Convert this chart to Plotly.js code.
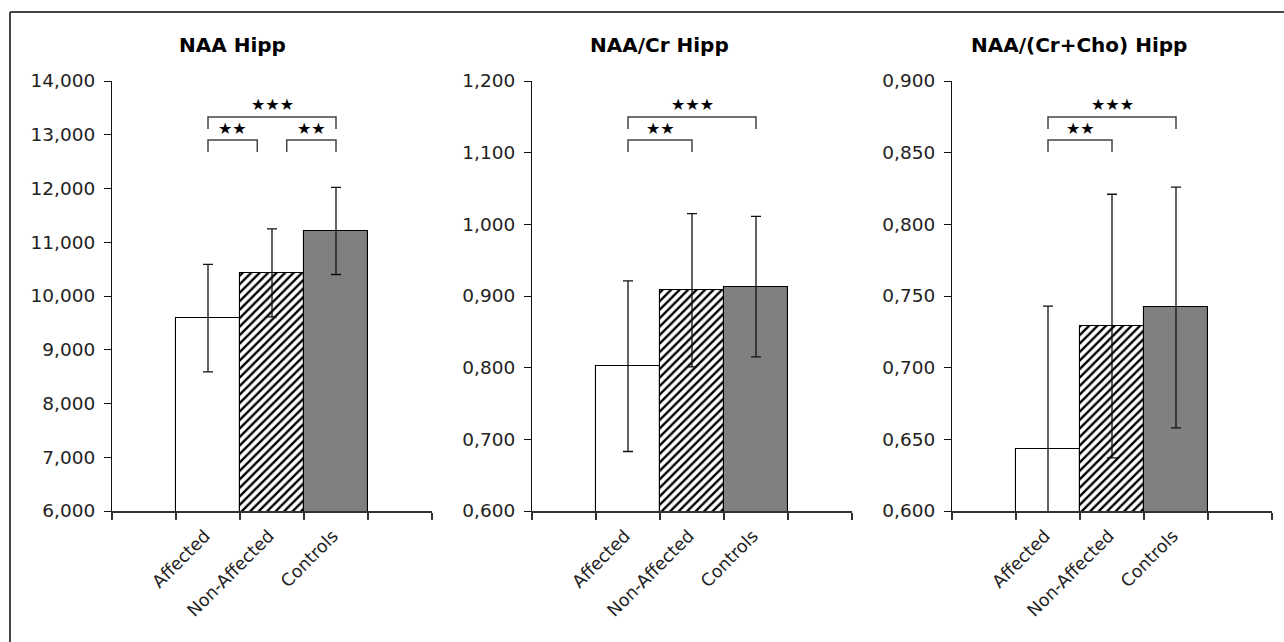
<!DOCTYPE html>
<html>
<head>
<meta charset="utf-8">
<script src="https://cdn.plot.ly/plotly-3.0.1.min.js"></script>
<style>html,body{margin:0;padding:0;background:#fff;}#chart{width:1284px;height:642px;}</style>
</head>
<body>
<div id="chart"></div>
<script>
// ---- data ----
const categories = ['Affected', 'Non-Affected', 'Controls'];
const panelTitles = ['NAA Hipp', 'NAA/Cr Hipp', 'NAA/(Cr+Cho) Hipp'];

const naaMean = [9.59, 10.43, 11.21];
const naaSD = [1.00, 0.82, 0.81];

const naaCrMean = [0.802, 0.908, 0.913];
const naaCrSD = [0.119, 0.107, 0.098];

const naaCrChoMean = [0.643, 0.729, 0.742];
const naaCrChoSD = [0.100, 0.092, 0.084];

const yRanges = [[6, 14], [0.6, 1.2], [0.6, 0.9]];
const yDticks = [1, 0.1, 0.05];

// significance brackets: [panel, from category index, to category index, level, label]
const brackets = [
  [0, 0, 2, 2, '★★★'], [0, 0, 1, 1, '★★'], [0, 1, 2, 1, '★★'],
  [1, 0, 2, 2, '★★★'], [1, 0, 1, 1, '★★'],
  [2, 0, 2, 2, '★★★'], [2, 0, 1, 1, '★★']
];

// ---- styles / layout ----
const W = 1284, H = 642;
const FONT = 'DejaVu Sans';
const barStyles = [
  {color: '#ffffff', pattern: {shape: ''}},
  {color: '#ffffff', pattern: {shape: '/', fgcolor: '#000000', bgcolor: '#ffffff', size: 6, solidity: 0.4, fillmode: 'replace'}},
  {color: '#808080', pattern: {shape: ''}}
];
const means = [naaMean, naaCrMean, naaCrChoMean];
const sds = [naaSD, naaCrSD, naaCrChoSD];
const xDomPx = [[112, 432], [532, 852], [952, 1272]];
const yDomPx = [81, 511];
const titleCx = [232, 659, 1079];
const xpos = categories.map((c, i) => i + 1.5);

const traces = [];
const layout = {
  width: W, height: H,
  margin: {l: 0, r: 0, t: 0, b: 0},
  paper_bgcolor: '#fff', plot_bgcolor: 'rgba(0,0,0,0)',
  showlegend: false,
  separators: ',.',
  bargap: 0,
  font: {family: FONT, size: 18, color: '#222'},
  shapes: [], annotations: []
};

for (let p = 0; p < 3; p++) {
  const sfx = p === 0 ? '' : String(p + 1);
  categories.forEach((cat, i) => {
    traces.push({
      type: 'bar', name: cat,
      x: [xpos[i]], y: [means[p][i]],
      width: 1,
      xaxis: 'x' + sfx, yaxis: 'y' + sfx,
      marker: {
        color: barStyles[i].color,
        line: {color: '#000', width: 1.1},
        pattern: barStyles[i].pattern
      },
      error_y: {type: 'data', array: [sds[p][i]], visible: true, color: '#111', thickness: 1.3, width: 5},
      hoverinfo: 'skip'
    });
  });
  layout['xaxis' + sfx] = {
    domain: [xDomPx[p][0] / W, xDomPx[p][1] / W],
    anchor: 'y' + sfx,
    range: [0, 5],
    tickmode: 'array', tickvals: xpos, ticktext: categories,
    tickangle: -45,
    ticks: 'outside', ticklen: 6, tickcolor: 'rgba(0,0,0,0)',
    ticklabelshift: -3,
    minor: {tickmode: 'array', tickvals: [0, 1, 2, 3, 4, 5], ticks: 'outside', ticklen: 7, tickwidth: 1.5, tickcolor: '#333'},
    showline: true, linecolor: '#333', linewidth: 1.6,
    showgrid: false, zeroline: false, fixedrange: true,
    tickfont: {family: FONT, size: 17.5, color: '#222'}
  };
  layout['yaxis' + sfx] = {
    domain: [1 - yDomPx[1] / H, 1 - yDomPx[0] / H],
    anchor: 'x' + sfx,
    range: yRanges[p], dtick: yDticks[p], tick0: yRanges[p][0],
    tickformat: '.3f',
    ticks: 'outside', ticklen: 7, tickwidth: 1, tickcolor: '#111',
    ticklabelstandoff: 5,
    showline: true, linecolor: '#111', linewidth: 1,
    showgrid: false, zeroline: false, fixedrange: true,
    tickfont: {family: FONT, size: 18.5, color: '#222'}
  };
  layout.annotations.push({
    xref: 'paper', yref: 'paper', x: titleCx[p] / W, y: 1 - 45 / H,
    xanchor: 'center', yanchor: 'middle', showarrow: false,
    text: panelTitles[p],
    font: {family: FONT, size: 20, weight: 'bold', color: '#000'}
  });
}

// brackets: line y, leg bottom y, label y (pixels) per level
const levelPx = {2: [117, 129, 104], 1: [140, 152, 128]};
brackets.forEach(([p, a, b, lvl, label]) => {
  const sfx = p === 0 ? '' : String(p + 1);
  let x1 = xpos[a], x2 = xpos[b];
  const sameLevel = brackets.filter(o => o[0] === p && o[3] === lvl).length > 1;
  if (sameLevel) {
    if (a === 1) x1 += 0.23;
    if (b === 1) x2 -= 0.23;
  }
  const [yl, yb, yt] = levelPx[lvl].map(v => 1 - v / H);
  layout.shapes.push({
    type: 'path', xref: 'x' + sfx, yref: 'paper',
    path: `M ${x1},${yb} L ${x1},${yl} L ${x2},${yl} L ${x2},${yb}`,
    line: {color: '#444', width: 1.5}
  });
  layout.annotations.push({
    xref: 'x' + sfx, yref: 'paper', x: (x1 + x2) / 2, y: yt,
    xanchor: 'center', yanchor: 'middle', showarrow: false,
    text: label, font: {family: FONT, size: 16, color: '#000'}
  });
});

// outer frame (top and left)
layout.shapes.push({type: 'line', xref: 'paper', yref: 'paper', x0: 10 / W, x1: 1, y0: 1 - 12 / H, y1: 1 - 12 / H, line: {color: '#444', width: 2}});
layout.shapes.push({type: 'line', xref: 'paper', yref: 'paper', x0: 10 / W, x1: 10 / W, y0: 0, y1: 1 - 12 / H, line: {color: '#444', width: 2}});

Plotly.newPlot('chart', traces, layout, {displayModeBar: false});
</script>
</body>
</html>
